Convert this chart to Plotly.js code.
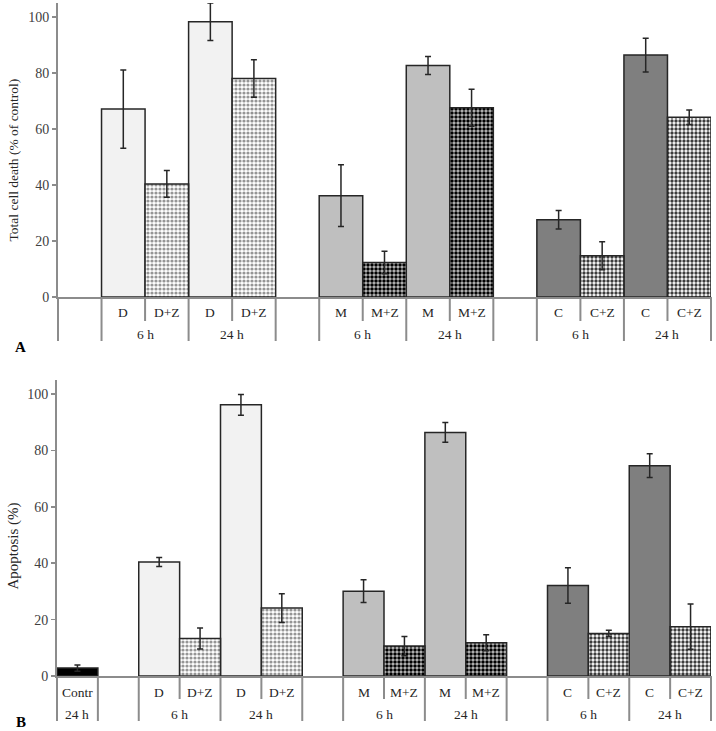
<!DOCTYPE html>
<html><head><meta charset="utf-8">
<script src="https://cdn.plot.ly/plotly-3.0.1.min.js"></script>
<style>html,body{margin:0;padding:0;background:#fff;} #chart{width:716px;height:731px;}</style>
</head><body><div id="chart"></div>
<script>
// ---------- Panel A: Total cell death (% of control) ----------
const labelsA = ['D','D+Z','D','D+Z','M','M+Z','M','M+Z','C','C+Z','C','C+Z'];
const timesA  = ['6 h','6 h','24 h','24 h','6 h','6 h','24 h','24 h','6 h','6 h','24 h','24 h'];
const groupsA = ['D','D','D','D','M','M','M','M','C','C','C','C'];
const valuesA = [67.1, 40.4, 98.3, 78.0, 36.2, 12.3, 82.7, 67.6, 27.6, 14.7, 86.4, 64.2];
const errorsA = [14.0, 4.8, 6.7, 6.7, 11.0, 4.0, 3.2, 6.6, 3.3, 5.0, 6.0, 2.6];

// ---------- Panel B: Apoptosis (%) ----------
const labelsB = ['Contr','D','D+Z','D','D+Z','M','M+Z','M','M+Z','C','C+Z','C','C+Z'];
const timesB  = ['24 h','6 h','6 h','24 h','24 h','6 h','6 h','24 h','24 h','6 h','6 h','24 h','24 h'];
const groupsB = ['Contr','D','D','D','D','M','M','M','M','C','C','C','C'];
const valuesB = [2.8, 40.4, 13.3, 96.2, 24.1, 30.1, 10.6, 86.4, 11.8, 32.1, 15.1, 74.6, 17.5];
const errorsB = [1.1, 1.6, 3.7, 3.7, 5.1, 4.0, 3.4, 3.5, 2.8, 6.3, 1.1, 4.2, 8.0];

const yTitleA = 'Total cell death (% of control)';
const yTitleB = 'Apoptosis (%)';

// ---------- styles ----------
const W = 716, H = 731;
const FONT = '"Liberation Serif", "Times New Roman", serif';
const AXC = '#8c8c8c';
const styles = {
  'Contr': {color:'#000000'},
  'D':     {color:'#f2f2f2'},
  'D+Z':   {color:'#ffffff', pattern:{shape:'.', bgcolor:'#ffffff', fgcolor:'#959595', size:4, solidity:0.5, fillmode:'replace'}},
  'M':     {color:'#bfbfbf'},
  'M+Z':   {color:'#c4c4c4', pattern:{shape:'.', bgcolor:'#c0c0c0', fgcolor:'#000000', size:4, solidity:0.6, fillmode:'replace'}},
  'C':     {color:'#7f7f7f'},
  'C+Z':   {color:'#ffffff', pattern:{shape:'.', bgcolor:'#ffffff', fgcolor:'#3c3c3c', size:4, solidity:0.55, fillmode:'replace'}}
};
const py = p => 1 - p / H;   // pixel row -> paper y
const px = p => p / W;

// slot positions: an empty slot precedes each drug group (except the first group in B)
function slots(groups, leadingEmpty) {
  const out = []; let s = -1; let prev = null;
  groups.forEach(g => {
    if (prev === null) s += leadingEmpty ? 2 : 1;
    else if (g !== prev) s += 2;
    else s += 1;
    out.push(s); prev = g;
  });
  return out;
}
const slotsA = slots(groupsA, true);   // 1..14
const slotsB = slots(groupsB, false);  // 0..15

function barTraces(labels, values, errors, sl, xa, ya) {
  const keys = [...new Set(labels)];
  return keys.map(k => {
    const idx = labels.map((l, i) => l === k ? i : -1).filter(i => i >= 0);
    const st = styles[k];
    const marker = {color: st.color, line:{color:'#262626', width:1.5}};
    if (st.pattern) marker.pattern = st.pattern;
    return {
      type:'bar', x: idx.map(i => sl[i]), y: idx.map(i => values[i]), width: 1, xaxis: xa, yaxis: ya,
      marker,
      error_y: {type:'data', array: idx.map(i => errors[i]), visible:true, color:'#262626', thickness:1.5, width:3},
      hoverinfo:'skip', showlegend:false, name:k
    };
  });
}

const shapes = [], annotations = [];
function table(labels, times, groups, sl, xref, range, rows) {
  const [yTop, yRow1Bottom, yBottom, yLab1, yLab2] = rows;
  const b = new Map();
  const setB = (x, kind) => { if (!b.has(x) || kind === 'long') b.set(x, kind); };
  setB(range[0], 'long');
  for (let i = 0; i < sl.length; i++) {
    const sameLeft = i > 0 && sl[i-1] === sl[i]-1 && times[i-1] === times[i] && groups[i-1] === groups[i];
    const sameRight = i < sl.length-1 && sl[i+1] === sl[i]+1 && times[i+1] === times[i] && groups[i+1] === groups[i];
    setB(sl[i]-0.5, sameLeft ? 'short' : 'long');
    setB(sl[i]+0.5, sameRight ? 'short' : 'long');
  }
  b.forEach((kind, x) => {
    const edge = (x <= range[0]) ? 0 : (x >= range[1] ? 1 : null);
    shapes.push({type:'line', xref: edge === null ? xref : xref + ' domain', yref:'paper',
      x0: edge === null ? x : edge, x1: edge === null ? x : edge,
      y0: py(yTop), y1: py(kind === 'long' ? yBottom : yRow1Bottom),
      line:{color:AXC, width:2}});
  });
  labels.forEach((l, i) => annotations.push({xref, yref:'paper', x: sl[i], y: py(yLab1), text: l,
    showarrow:false, yanchor:'middle', font:{family:FONT, size:13.5, color:'#262626'}}));
  let start = 0;
  for (let i = 1; i <= sl.length; i++) {
    if (i === sl.length || sl[i] !== sl[i-1]+1 || times[i] !== times[i-1] || groups[i] !== groups[i-1]) {
      annotations.push({xref, yref:'paper', x: (sl[start] + sl[i-1]) / 2, y: py(yLab2), text: times[start],
        showarrow:false, yanchor:'middle', font:{family:FONT, size:13.5, color:'#262626'}});
      start = i;
    }
  }
}

const rangeA = [-0.5, 14.5], rangeB = [-0.5, 15.5];
table(labelsA, timesA, groupsA, slotsA, 'x', rangeA, [297, 321, 341, 313, 335]);
table(labelsB, timesB, groupsB, slotsB, 'x2', rangeB, [676, 699, 721, 692, 714]);

annotations.push({xref:'paper', yref:'paper', x: px(12.5), y: py(160), text: yTitleA, textangle:-90,
  showarrow:false, xanchor:'center', yanchor:'middle', font:{family:FONT, size:13.5, color:'#262626'}});
annotations.push({xref:'paper', yref:'paper', x: px(12.5), y: py(546), text: yTitleB, textangle:-90,
  showarrow:false, xanchor:'center', yanchor:'middle', font:{family:FONT, size:15, color:'#262626'}});
annotations.push({xref:'paper', yref:'paper', x: px(20), y: py(347), text: '<b>A</b>',
  showarrow:false, xanchor:'center', yanchor:'middle', font:{family:FONT, size:15, color:'#000'}});
annotations.push({xref:'paper', yref:'paper', x: px(21), y: py(722), text: '<b>B</b>',
  showarrow:false, xanchor:'center', yanchor:'middle', font:{family:FONT, size:15, color:'#000'}});

const xAxis = (dom, range, anchor) => ({domain: dom, range, anchor, showline:true, linecolor:AXC, linewidth:2,
  showticklabels:false, ticks:'', showgrid:false, zeroline:false, fixedrange:true});
const yAxis = (dom, anchor) => ({domain: dom, range:[0,105], anchor, showline:true, linecolor:AXC, linewidth:2,
  ticks:'outside', ticklen:4, tickwidth:1.5, tickcolor:AXC, dtick:20, showgrid:false, zeroline:false,
  tickfont:{family:FONT, size:14, color:'#404040'}, fixedrange:true});

const layout = {
  width: W, height: H, margin:{l:0, r:0, t:0, b:0}, paper_bgcolor:'#fff', plot_bgcolor:'#fff',
  showlegend:false, barmode:'overlay',
  xaxis: xAxis([px(58), px(711)], rangeA, 'y'),
  yaxis: yAxis([py(297), py(3)], 'x'),
  xaxis2: xAxis([px(57), px(711)], rangeB, 'y2'),
  yaxis2: yAxis([py(676), py(380)], 'x2'),
  shapes, annotations
};

Plotly.newPlot('chart', [
  ...barTraces(labelsA, valuesA, errorsA, slotsA, 'x', 'y'),
  ...barTraces(labelsB, valuesB, errorsB, slotsB, 'x2', 'y2')
], layout, {staticPlot:true, displayModeBar:false});
</script>
</body></html>
